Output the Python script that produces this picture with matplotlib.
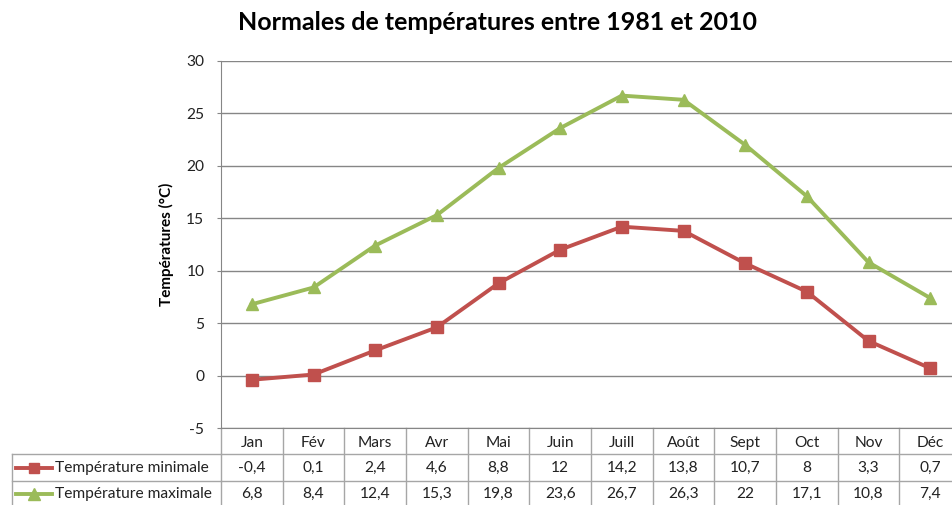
import matplotlib
matplotlib.use("Agg")
import matplotlib.pyplot as plt
from matplotlib.transforms import blended_transform_factory
from matplotlib.lines import Line2D

months = ["Jan", "Fév", "Mars", "Avr", "Mai", "Juin", "Juill", "Août", "Sept", "Oct", "Nov", "Déc"]
tmin = [-0.4, 0.1, 2.4, 4.6, 8.8, 12, 14.2, 13.8, 10.7, 8, 3.3, 0.7]
tmax = [6.8, 8.4, 12.4, 15.3, 19.8, 23.6, 26.7, 26.3, 22, 17.1, 10.8, 7.4]
series_names = ["Température minimale", "Température maximale"]
yticks = [-5, 0, 5, 10, 15, 20, 25, 30]

RED = "#C0504D"
GREEN = "#9BBB59"
GRID = "#868686"
TBL = "#A6A6A6"
FONT = "Lato"
FS = 11.2

W, H = 952, 505
fig = plt.figure(figsize=(W / 100, H / 100), dpi=100)
plt.rcParams["font.family"] = [FONT, "DejaVu Sans"]

def fx(px):
    return px / W

def fy(py):
    return 1 - py / H

left, right, top, bottom = 221, 961, 61, 428
ax = fig.add_axes([fx(left), fy(bottom), fx(right) - fx(left), fy(top) - fy(bottom)])
ax.set_xlim(-0.5, len(months) - 0.5)
ax.set_ylim(-5, 30)
ax.set_yticks(yticks)
ax.set_yticklabels([str(v) for v in yticks], fontsize=FS, color="#222222")
ax.set_xticks([])
ax.tick_params(axis="y", length=3, color=GRID, pad=9)
for s in ["top", "right"]:
    ax.spines[s].set_visible(False)
ax.spines["left"].set_color(GRID)
ax.spines["bottom"].set_color(GRID)
ax.yaxis.grid(True, color=GRID, lw=1)
ax.set_axisbelow(True)

x = list(range(len(months)))
ax.plot(x, tmin, color=RED, lw=2.8, marker="s", ms=8, zorder=3, clip_on=False)
ax.plot(x, tmax, color=GREEN, lw=2.8, marker="^", ms=9, zorder=3, clip_on=False)

ax.set_ylabel("Températures (°C)", fontsize=11, fontweight="bold", labelpad=9)

fig.text(fx(497), fy(22), "Normales de températures entre 1981 et 2010",
         ha="center", va="center", fontsize=18, fontweight="bold")

# data table below the axes
tr = blended_transform_factory(ax.transData, fig.transFigure)
row_tops = [428, 454, 481, 508]
text_y = [443, 468, 494]
n = len(months)
ax.add_line(Line2D([-0.5, n - 0.5], [fy(row_tops[1])] * 2, transform=tr, color=TBL, lw=1, clip_on=False))
ax.add_line(Line2D([-0.5, n - 0.5], [fy(row_tops[2])] * 2, transform=tr, color=TBL, lw=1, clip_on=False))
fig.add_artist(Line2D([fx(12), fx(left)], [fy(row_tops[1])] * 2, color=TBL, lw=1))
fig.add_artist(Line2D([fx(12), fx(left)], [fy(row_tops[2])] * 2, color=TBL, lw=1))
fig.add_artist(Line2D([fx(12), fx(12)], [fy(row_tops[1]), fy(row_tops[3])], color=TBL, lw=1))
for i in range(n + 1):
    ax.add_line(Line2D([i - 0.5, i - 0.5], [fy(row_tops[0]), fy(row_tops[3])], transform=tr,
                       color=TBL, lw=1, clip_on=False))

def fmt(v):
    return ("%g" % v).replace(".", ",")

for i, m in enumerate(months):
    ax.text(i, fy(text_y[0]), m, transform=tr, ha="center", va="center",
            fontsize=FS, color="#222222", clip_on=False)
    ax.text(i, fy(text_y[1]), fmt(tmin[i]), transform=tr, ha="center",
            va="center", fontsize=FS, color="#222222", clip_on=False)
    ax.text(i, fy(text_y[2]), fmt(tmax[i]), transform=tr, ha="center",
            va="center", fontsize=FS, color="#222222", clip_on=False)

for r, (name, col, mk, ms) in enumerate([(series_names[0], RED, "s", 7.5), (series_names[1], GREEN, "^", 8.5)]):
    yc = fy(text_y[r + 1])
    fig.add_artist(Line2D([fx(16), fx(52)], [yc, yc], color=col, lw=2.8))
    fig.add_artist(Line2D([fx(34)], [yc], color=col, marker=mk, ms=ms, lw=0))
    fig.text(fx(55), yc, name, ha="left", va="center", fontsize=FS, color="#222222")

fig.savefig("out.png", dpi=100)
